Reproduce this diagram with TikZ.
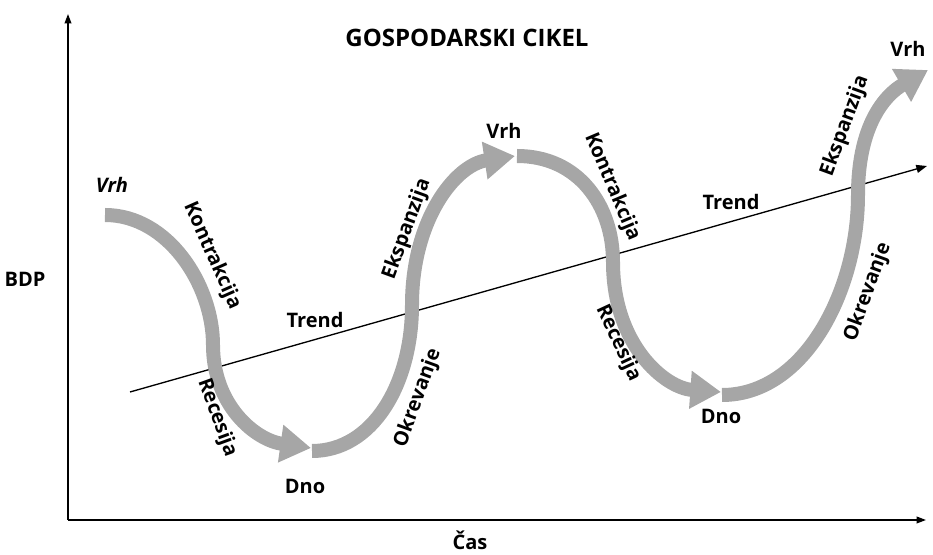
\documentclass[tikz,border=0pt]{standalone}
\usepackage{fontspec}
\setmainfont{Open Sans}
\usetikzlibrary{arrows.meta}
\definecolor{wave}{HTML}{A6A6A6}
\tikzset{
  axis/.style={line width=1.1pt,-{Triangle[length=7pt,width=5pt]}},
  trendline/.style={line width=1pt,-{Triangle[length=8pt,width=6pt]}},
  wavearrow/.style={line width=10.5pt,color=wave,-{Triangle[length=23pt,width=27pt]}},
  lbl/.style={font=\fontsize{15}{18}\selectfont\bfseries,inner sep=0pt},
  ttl/.style={font=\fontsize{18}{22}\selectfont\bfseries,inner sep=0pt}
}
\begin{document}
\begin{tikzpicture}[x=0.75pt,y=-0.75pt]
\useasboundingbox (0,0) rectangle (933,555);
% axes
\coordinate (O) at (68,520);
\coordinate (Ytop) at (68,14);
\coordinate (Xend) at (926,520);
\draw[axis] (O) -- (Ytop);
\draw[axis] (O) -- (Xend);
% trend
\coordinate (T0) at (130,392);
\coordinate (T1) at (927,166);
\draw[trendline] (T0) -- (T1);
% wave segments
\coordinate (A0) at (105,215);
\coordinate (A1) at (213,345);
\coordinate (A2) at (311,448);
\coordinate (B0) at (312,451);
\coordinate (B1) at (412,305);
\coordinate (B2) at (515,156);
\coordinate (C0) at (517,156);
\coordinate (C1) at (613,262);
\coordinate (C2) at (721,392);
\coordinate (D0) at (722,395);
\coordinate (D1) at (858,195);
\coordinate (D2) at (928,70);
\draw[wavearrow] (A0) .. controls (168,215) and (213,285) .. (A1)
  .. controls (213,405) and (255,440) .. (A2);
\draw[wavearrow] (B0) .. controls (372,451) and (412,385) .. (B1)
  .. controls (412,220) and (455,165) .. (B2);
\draw[wavearrow] (C0) .. controls (578,156) and (613,205) .. (C1)
  .. controls (613,345) and (665,388) .. (C2);
\draw[wavearrow] (D0) .. controls (805,395) and (858,290) .. (D1)
  .. controls (858,125) and (885,95) .. (D2);
% labels
\node[ttl] (title) at (467,38) {GOSPODARSKI CIKEL};
\node[lbl] (bdp) at (25,279) {BDP};
\node[lbl] (cas) at (470,540) {Čas};
\node[lbl,font=\fontsize{15}{18}\selectfont\bfseries\itshape] (vrh1) at (112,185) {Vrh};
\node[lbl,rotate=-66] (kon1) at (212,256) {Kontrakcija};
\node[lbl,rotate=-70] (rec1) at (217,418) {Recesija};
\node[lbl] (dno1) at (305,486) {Dno};
\node[lbl] (tr1) at (315,320) {Trend};
\node[lbl,rotate=70] (eks1) at (407,229) {Ekspanzija};
\node[lbl,rotate=70] (okr1) at (418,398) {Okrevanje};
\node[lbl] (vrh2) at (504,131) {Vrh};
\node[lbl,rotate=-67] (kon2) at (612,187) {Kontrakcija};
\node[lbl] (tr2) at (731,202) {Trend};
\node[lbl,rotate=-65] (rec2) at (618,343) {Recesija};
\node[lbl] (dno2) at (721,416) {Dno};
\node[lbl,rotate=70] (eks2) at (845,126) {Ekspanzija};
\node[lbl,rotate=70] (okr2) at (868,292) {Okrevanje};
\node[lbl] (vrh3) at (908,49) {Vrh};
\end{tikzpicture}
\end{document}
